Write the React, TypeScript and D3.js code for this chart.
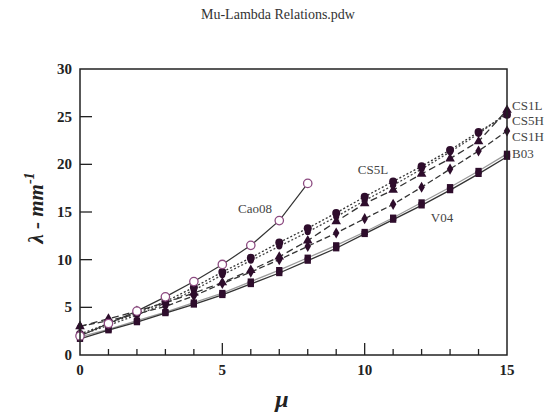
import React from "react";
import * as d3 from "d3";

// mu values shared by the experiment series
const mu = d3.range(0, 16);
const muCao = d3.range(0, 9);

const cao08 = [2.0, 3.3, 4.6, 6.1, 7.7, 9.5, 11.5, 14.1, 18.0];
const cs1l = [3.0, 3.8, 4.6, 5.5, 6.5, 7.6, 8.9, 10.3, 12.0, 14.0, 15.9, 17.3, 19.0, 20.6, 22.4, 25.7];
const cs5h = [2.2, 3.3, 4.4, 5.6, 7.1, 8.7, 10.2, 11.8, 13.3, 14.9, 16.6, 18.2, 19.8, 21.5, 23.4, 25.2];
const cs5l = [2.1, 3.1, 4.2, 5.4, 6.8, 8.4, 9.9, 11.4, 12.9, 14.5, 16.2, 17.8, 19.5, 21.3, 23.2, 25.4];
const cs1h = [3.0, 3.6, 4.3, 5.1, 6.2, 7.5, 8.7, 10.0, 11.4, 12.8, 14.3, 15.8, 17.6, 19.5, 21.4, 23.5];
const v04 = [1.9, 2.7, 3.6, 4.5, 5.5, 6.5, 7.7, 8.9, 10.2, 11.5, 12.9, 14.4, 16.0, 17.6, 19.3, 21.1];
const b03 = [1.7, 2.6, 3.45, 4.4, 5.3, 6.3, 7.45, 8.6, 9.9, 11.2, 12.7, 14.2, 15.7, 17.3, 19.0, 20.8];

const yTicks = [0, 5, 10, 15, 20, 25, 30];
const xMajor = [0, 5, 10, 15];

const series = [
  { name: "V04", xs: mu, ys: v04, line: "#9a9a9a", dash: "", sym: d3.symbolSquare, size: 40 },
  { name: "B03", xs: mu, ys: b03, line: "#333", dash: "", sym: d3.symbolSquare, size: 40 },
  { name: "CS1H", xs: mu, ys: cs1h, line: "#333", dash: "6,3", sym: d3.symbolDiamond, size: 36 },
  { name: "CS1L", xs: mu, ys: cs1l, line: "#333", dash: "7,4", sym: d3.symbolTriangle, size: 40 },
  { name: "CS5L", xs: mu, ys: cs5l, line: "#444", dash: "2,2", sym: d3.symbolCircle, size: 30 },
  { name: "CS5H", xs: mu, ys: cs5h, line: "#333", dash: "2,2", sym: d3.symbolCircle, size: 50 },
];

const serif = "'Liberation Serif', 'DejaVu Serif', serif";
const markColor = "#2e0d2c";

export default function App() {
  const x = d3.scaleLinear().domain([0, 15]).range([80, 507]);
  const y = d3.scaleLinear().domain([0, 30]).range([355, 69]);
  const line = d3
    .line<[number, number]>()
    .x((d) => x(d[0]))
    .y((d) => y(d[1]));

  return (
    <svg width={557} height={413} style={{ position: "absolute", left: 0, top: 0, background: "#fff" }}>
      <text x={278} y={19} textAnchor="middle" fontFamily={serif} fontSize={14} fill="#333">
        Mu-Lambda Relations.pdw
      </text>

      {series.map((s) => (
        <g key={s.name}>
          <path
            d={line(s.xs.map((v, i) => [v, s.ys[i]]) as [number, number][]) || ""}
            fill="none"
            stroke={s.line}
            strokeWidth={1.3}
            strokeDasharray={s.dash}
          />
          {s.xs.map((v, i) => (
            <path
              key={i}
              d={d3.symbol().type(s.sym).size(s.size)() || ""}
              transform={`translate(${x(v)},${y(s.ys[i])})`}
              fill={markColor}
            />
          ))}
        </g>
      ))}

      <path
        d={line(muCao.map((v, i) => [v, cao08[i]]) as [number, number][]) || ""}
        fill="none"
        stroke="#333"
        strokeWidth={1.2}
      />
      {muCao.map((v, i) => (
        <circle key={i} cx={x(v)} cy={y(cao08[i])} r={4.2} fill="#fff" stroke="#8c4a80" strokeWidth={1.3} />
      ))}

      {/* frame */}
      <rect x={80} y={69} width={427} height={286} fill="none" stroke="#222" strokeWidth={1.5} />

      {yTicks.map((t) => (
        <g key={t}>
          {t > 0 && t < 30 && <line x1={80} x2={92} y1={y(t)} y2={y(t)} stroke="#222" strokeWidth={1.3} />}
          <text x={72} y={y(t) + 5} textAnchor="end" fontFamily={serif} fontWeight="bold" fontSize={15} fill="#222">
            {t}
          </text>
        </g>
      ))}

      {mu.map((t) => {
        const major = t % 5 === 0;
        if (t === 0 || t === 15) return null;
        return (
          <line key={t} x1={x(t)} x2={x(t)} y1={355} y2={major ? 343 : 349} stroke="#222" strokeWidth={1.3} />
        );
      })}
      {xMajor.map((t) => (
        <text key={t} x={x(t)} y={375} textAnchor="middle" fontFamily={serif} fontWeight="bold" fontSize={15} fill="#222">
          {t}
        </text>
      ))}

      <text x={282} y={407} textAnchor="middle" fontFamily={serif} fontWeight="bold" fontStyle="italic" fontSize={24} fill="#222">
        μ
      </text>
      <text
        transform="translate(43,208) rotate(-90)"
        textAnchor="middle"
        fontFamily={serif}
        fontWeight="bold"
        fontStyle="italic"
        fontSize={21}
        fill="#222"
      >
        λ - mm
        <tspan dy={-9} fontSize={14}>-1</tspan>
      </text>

      <g fontFamily={serif} fontSize={13} fill="#444">
        <text x={512} y={110}>CS1L</text>
        <text x={512} y={125}>CS5H</text>
        <text x={512} y={141}>CS1H</text>
        <text x={512} y={158}>B03</text>
        <text x={373} y={174} textAnchor="middle">CS5L</text>
        <text x={442} y={222} textAnchor="middle">V04</text>
        <text x={255} y={213} textAnchor="middle">Cao08</text>
      </g>
    </svg>
  );
}
